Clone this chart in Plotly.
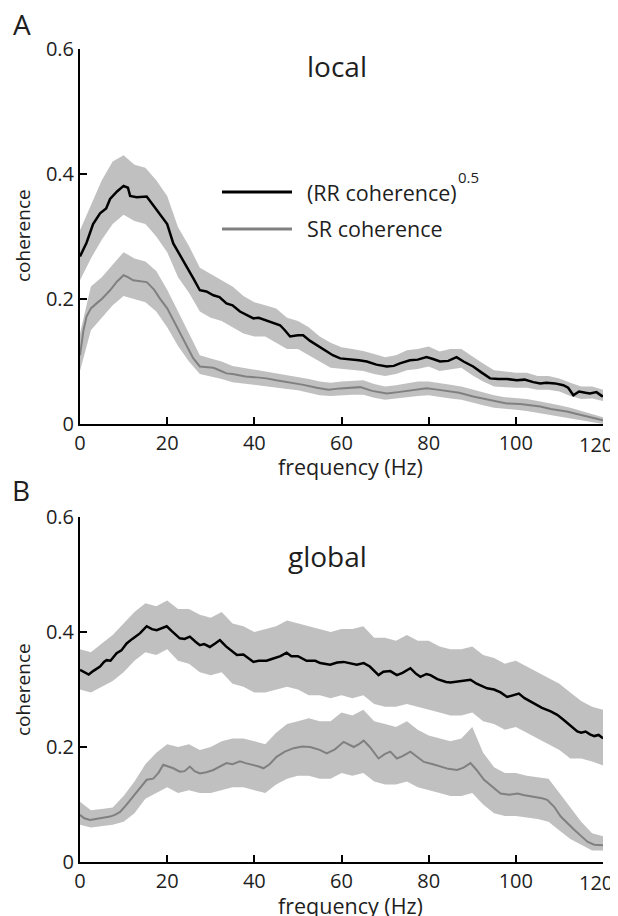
import plotly.graph_objects as go

# ---------------- data ----------------
# Panel A (local) – (RR coherence)^0.5 mean
a_rr_f = [0, 1.5, 3, 4.6, 6, 6.9, 8.5, 10, 11, 11.5, 13, 15.3, 16.8, 18, 19, 20, 21.4, 23, 24.5, 26,
          27.5, 29, 30.6, 32, 33.6, 35, 36.7, 38, 39.8, 41, 42.8, 44, 45.9, 47, 48.2, 50, 51.2, 52.8,
          54.3, 56, 58, 59.7, 62, 64, 65.8, 68, 70.4, 72, 73.4, 75.7, 77.5, 79.5, 81, 82.6, 84.5,
          86.4, 88, 90.2, 92, 94.1, 96, 98, 100.2, 102, 104, 105.6, 107, 109, 110.9, 112, 113.2,
          114.5, 116, 117, 118.5, 119.7, 120]
a_rr_m = [0.268, 0.29, 0.32, 0.337, 0.345, 0.36, 0.372, 0.381, 0.378, 0.365, 0.363, 0.364, 0.35,
          0.338, 0.33, 0.32, 0.289, 0.27, 0.252, 0.233, 0.214, 0.212, 0.206, 0.203, 0.193, 0.19,
          0.18, 0.175, 0.169, 0.17, 0.166, 0.163, 0.158, 0.15, 0.14, 0.142, 0.142, 0.133, 0.126,
          0.118, 0.11, 0.105, 0.104, 0.102, 0.1, 0.095, 0.092, 0.093, 0.097, 0.102, 0.103, 0.107,
          0.104, 0.1, 0.101, 0.107, 0.1, 0.092, 0.083, 0.073, 0.072, 0.072, 0.07, 0.071, 0.067,
          0.065, 0.066, 0.065, 0.062, 0.058, 0.046, 0.052, 0.05, 0.049, 0.051, 0.045, 0.045]

# Panel A – SR coherence mean
a_sr_f = [0, 0.8, 1.5, 2.5, 3.8, 5, 6.9, 8.5, 10, 11, 12.2, 13.8, 15.3, 17, 18.3, 20, 21.4, 23,
          24.5, 26, 27.5, 29, 30.6, 32, 33.6, 35, 36.7, 38, 40, 42.8, 45, 47, 48.9, 51, 54.3, 57,
          59.7, 62, 64.3, 67, 70.4, 73, 76, 79.5, 82, 84.9, 87, 90.2, 93, 95, 97.9, 101, 103,
          105.6, 108, 111.7, 114, 117, 120]
a_sr_m = [0.11, 0.15, 0.172, 0.185, 0.193, 0.2, 0.214, 0.228, 0.238, 0.235, 0.23, 0.229, 0.227,
          0.215, 0.201, 0.185, 0.166, 0.145, 0.124, 0.105, 0.092, 0.091, 0.09, 0.086, 0.081,
          0.08, 0.078, 0.076, 0.075, 0.073, 0.07, 0.068, 0.065, 0.063, 0.058, 0.055, 0.057,
          0.058, 0.059, 0.053, 0.049, 0.051, 0.054, 0.057, 0.055, 0.052, 0.05, 0.044, 0.04,
          0.036, 0.033, 0.032, 0.03, 0.028, 0.024, 0.02, 0.016, 0.011, 0.006]

# Band edges (shaded error regions), read on a 2.5 Hz grid
band_f = [0, 2.5, 5, 7.5, 10, 12.5, 15, 17.5, 20, 22.5, 25, 27.5, 30, 32.5, 35, 37.5, 40, 42.5,
          45, 47.5, 50, 52.5, 55, 57.5, 60, 62.5, 65, 67.5, 70, 72.5, 75, 77.5, 80, 82.5, 85,
          87.5, 90, 92.5, 95, 97.5, 100, 102.5, 105, 107.5, 110, 112.5, 115, 117.5, 120]

a_rr_lo = [0.23, 0.265, 0.295, 0.32, 0.335, 0.325, 0.32, 0.30, 0.275, 0.235, 0.21, 0.18, 0.17,
           0.165, 0.155, 0.145, 0.14, 0.14, 0.13, 0.12, 0.12, 0.11, 0.1, 0.09, 0.088, 0.087,
           0.085, 0.08, 0.077, 0.08, 0.086, 0.088, 0.092, 0.085, 0.088, 0.09, 0.078, 0.068,
           0.06, 0.059, 0.058, 0.058, 0.055, 0.055, 0.052, 0.045, 0.04, 0.041, 0.037]
a_rr_hi = [0.31, 0.35, 0.39, 0.42, 0.43, 0.415, 0.41, 0.39, 0.365, 0.315, 0.285, 0.25, 0.24,
           0.23, 0.22, 0.205, 0.195, 0.19, 0.185, 0.17, 0.165, 0.155, 0.14, 0.13, 0.123, 0.12,
           0.117, 0.112, 0.107, 0.11, 0.118, 0.12, 0.124, 0.116, 0.12, 0.12, 0.108, 0.097,
           0.086, 0.084, 0.082, 0.082, 0.077, 0.077, 0.073, 0.066, 0.06, 0.06, 0.055]

a_sr_lo = [0.085, 0.15, 0.17, 0.19, 0.205, 0.2, 0.195, 0.18, 0.155, 0.125, 0.1, 0.08, 0.076,
           0.072, 0.067, 0.065, 0.063, 0.061, 0.058, 0.056, 0.054, 0.05, 0.046, 0.045, 0.046,
           0.047, 0.047, 0.042, 0.039, 0.04, 0.043, 0.045, 0.046, 0.044, 0.041, 0.039, 0.034,
           0.03, 0.026, 0.024, 0.023, 0.021, 0.019, 0.016, 0.013, 0.01, 0.006, 0.003, 0.0]
a_sr_hi = [0.145, 0.22, 0.235, 0.255, 0.275, 0.265, 0.26, 0.245, 0.215, 0.18, 0.145, 0.11,
           0.105, 0.1, 0.093, 0.09, 0.088, 0.085, 0.082, 0.078, 0.076, 0.072, 0.068, 0.066,
           0.068, 0.069, 0.07, 0.064, 0.06, 0.062, 0.065, 0.068, 0.068, 0.066, 0.063, 0.06,
           0.055, 0.05, 0.046, 0.043, 0.042, 0.04, 0.037, 0.034, 0.03, 0.026, 0.021, 0.016, 0.011]

# Panel B (global) – (RR coherence)^0.5 mean
b_rr_f = [0, 1, 2, 3, 4.6, 5.5, 6.1, 7, 8.4, 9.5, 10.7, 12, 13.8, 15.3, 16.5, 17.6, 19, 19.9, 21,
          22.9, 24, 25.2, 26.5, 27.5, 28.5, 29.8, 31, 32.1, 33.5, 35, 36, 37.5, 39, 39.8, 41, 42.8,
          44, 46, 47.4, 48.5, 50, 52, 54, 55.1, 57.4, 59, 60.5, 62, 63.5, 65.1, 66.5, 68.5, 69.6,
          71.2, 72.7, 74, 75.8, 77, 78.1, 79.5, 80.4, 82, 84, 85, 87, 89.6, 91, 93.4, 95, 96.5,
          98, 99.5, 100.7, 102, 104.2, 106, 108, 109.5, 111, 112.5, 114.1, 115, 116, 117, 118,
          119, 120]
b_rr_m = [0.334, 0.33, 0.326, 0.332, 0.34, 0.348, 0.351, 0.35, 0.363, 0.368, 0.38, 0.388, 0.398,
          0.41, 0.405, 0.403, 0.408, 0.41, 0.402, 0.389, 0.388, 0.392, 0.383, 0.377, 0.379, 0.374,
          0.38, 0.386, 0.375, 0.365, 0.36, 0.361, 0.352, 0.348, 0.35, 0.35, 0.353, 0.358, 0.364,
          0.358, 0.358, 0.35, 0.35, 0.346, 0.343, 0.347, 0.348, 0.345, 0.343, 0.346, 0.34, 0.325,
          0.331, 0.332, 0.325, 0.329, 0.337, 0.328, 0.322, 0.327, 0.325, 0.318, 0.313, 0.312,
          0.314, 0.317, 0.31, 0.302, 0.3, 0.295, 0.287, 0.291, 0.293, 0.285, 0.276, 0.268, 0.262,
          0.256, 0.247, 0.237, 0.227, 0.225, 0.227, 0.222, 0.219, 0.221, 0.215]

# Panel B – SR coherence mean
b_sr_f = [0, 1, 2.3, 4, 5.5, 6.9, 8, 9.2, 10.5, 12.2, 13.5, 15.3, 16.8, 18, 19.1, 20.3, 21.4,
          22.9, 24, 25.2, 26.3, 27.5, 29, 30.6, 32, 33.6, 35, 36.7, 38, 39.8, 41, 42.1, 43.5, 45.1,
          47, 49, 51, 52.8, 55, 56.6, 58.5, 60.5, 61.5, 62.8, 64, 65.1, 66.5, 68.5, 70, 71.2, 72.7,
          74, 75.8, 77.5, 78.9, 81, 82.7, 84.5, 86.5, 88, 89.6, 91, 92.7, 94.5, 96.5, 98.5, 100.4,
          102, 104.2, 106, 107.2, 108.8, 110.3, 112, 113.4, 115, 116.5, 118, 120]
b_sr_m = [0.082, 0.076, 0.073, 0.075, 0.077, 0.079, 0.082, 0.087, 0.098, 0.114, 0.128, 0.143,
          0.145, 0.155, 0.169, 0.166, 0.163, 0.157, 0.158, 0.166, 0.158, 0.154, 0.156, 0.16,
          0.165, 0.172, 0.17, 0.175, 0.172, 0.169, 0.166, 0.163, 0.17, 0.183, 0.192, 0.198,
          0.201, 0.2, 0.195, 0.189, 0.196, 0.209, 0.205, 0.2, 0.205, 0.211, 0.2, 0.18, 0.188,
          0.192, 0.18, 0.184, 0.192, 0.182, 0.174, 0.17, 0.166, 0.162, 0.16, 0.164, 0.172, 0.16,
          0.143, 0.132, 0.119, 0.117, 0.119, 0.116, 0.113, 0.111, 0.108, 0.096, 0.079, 0.066,
          0.056, 0.045, 0.035, 0.03, 0.029]

b_rr_lo = [0.30, 0.295, 0.305, 0.315, 0.33, 0.35, 0.365, 0.36, 0.37, 0.35, 0.345, 0.33, 0.325,
           0.33, 0.31, 0.305, 0.295, 0.295, 0.3, 0.305, 0.3, 0.29, 0.29, 0.285, 0.29, 0.285,
           0.29, 0.275, 0.27, 0.27, 0.275, 0.27, 0.265, 0.26, 0.255, 0.255, 0.26, 0.245, 0.24,
           0.23, 0.235, 0.225, 0.215, 0.205, 0.195, 0.18, 0.18, 0.175, 0.168]
b_rr_hi = [0.37, 0.365, 0.38, 0.395, 0.415, 0.435, 0.45, 0.445, 0.455, 0.44, 0.44, 0.43, 0.425,
           0.435, 0.415, 0.41, 0.4, 0.405, 0.41, 0.42, 0.415, 0.41, 0.405, 0.4, 0.405, 0.405,
           0.41, 0.39, 0.39, 0.385, 0.395, 0.385, 0.385, 0.375, 0.37, 0.37, 0.375, 0.36, 0.355,
           0.345, 0.35, 0.34, 0.33, 0.32, 0.31, 0.295, 0.28, 0.27, 0.265]

b_sr_lo = [0.065, 0.06, 0.062, 0.065, 0.07, 0.085, 0.11, 0.12, 0.13, 0.12, 0.125, 0.12, 0.12,
           0.125, 0.13, 0.13, 0.125, 0.12, 0.135, 0.145, 0.15, 0.15, 0.145, 0.145, 0.155, 0.15,
           0.155, 0.14, 0.135, 0.135, 0.14, 0.13, 0.125, 0.12, 0.115, 0.115, 0.12, 0.1, 0.085,
           0.08, 0.08, 0.078, 0.075, 0.07, 0.055, 0.04, 0.03, 0.02, 0.02]
b_sr_hi = [0.105, 0.09, 0.092, 0.095, 0.115, 0.14, 0.17, 0.19, 0.205, 0.2, 0.205, 0.195, 0.2,
           0.21, 0.215, 0.215, 0.21, 0.205, 0.225, 0.24, 0.245, 0.25, 0.245, 0.245, 0.26, 0.255,
           0.265, 0.245, 0.24, 0.235, 0.245, 0.23, 0.22, 0.215, 0.21, 0.215, 0.235, 0.19, 0.165,
           0.155, 0.155, 0.15, 0.148, 0.145, 0.12, 0.095, 0.07, 0.05, 0.045]

x_ticks = [0, 20, 40, 60, 80, 100, 120]
x_ticktext = ["0", "20", "40", "60", "80", "100", ""]   # last label drawn separately (edge)
x_last_label = "120"
y_ticks = [0, 0.2, 0.4, 0.6]
y_ticktext = ["0", "0.2", "0.4", "0.6"]

# ---------------- style ----------------
OFF = 8                      # default page (body) margin offset
W, H = 618 - OFF, 916 - OFF  # figure size so it fits the window
FONT = "Open Sans"
BAND = "rgb(192,192,192)"
BLACK = "rgb(0,0,0)"
GRAY = "rgb(128,128,128)"
TXT = "#1e1e1e"


def px(x):
    return (x - OFF) / W


def py(y):
    return 1 - (y - OFF) / H


fig = go.Figure()


def add_panel(xa, ya, f_band, rr_lo, rr_hi, sr_lo, sr_hi, rr_f, rr_m, sr_f, sr_m):
    for lo, hi in ((rr_lo, rr_hi), (sr_lo, sr_hi)):
        fig.add_trace(go.Scatter(
            x=list(f_band) + list(f_band)[::-1], y=list(hi) + list(lo)[::-1],
            fill="toself", fillcolor=BAND, line=dict(width=0), mode="lines",
            hoverinfo="skip", showlegend=False, xaxis=xa, yaxis=ya))
    fig.add_trace(go.Scatter(x=sr_f, y=sr_m, mode="lines", line=dict(color=GRAY, width=2),
                             showlegend=False, xaxis=xa, yaxis=ya))
    fig.add_trace(go.Scatter(x=rr_f, y=rr_m, mode="lines", line=dict(color=BLACK, width=2.5),
                             showlegend=False, xaxis=xa, yaxis=ya))


add_panel("x", "y", band_f, a_rr_lo, a_rr_hi, a_sr_lo, a_sr_hi, a_rr_f, a_rr_m, a_sr_f, a_sr_m)
add_panel("x2", "y2", band_f, b_rr_lo, b_rr_hi, b_sr_lo, b_sr_hi, b_rr_f, b_rr_m, b_sr_f, b_sr_m)

xdom = [px(80), px(603)]
axis_common = dict(showline=True, linecolor="black", linewidth=2, ticks="inside", ticklen=7,
                   tickwidth=2, tickcolor="black", showgrid=False, zeroline=False,
                   automargin=False, ticklabeloverflow="allow",
                   tickfont=dict(family=FONT, size=20, color=TXT))

fig.update_layout(
    template="none",
    width=W, height=H, margin=dict(l=0, r=0, t=0, b=0, pad=0),
    paper_bgcolor="white", plot_bgcolor="white", showlegend=False,
    xaxis=dict(domain=xdom, range=[0, 120], tickvals=x_ticks, ticktext=x_ticktext, anchor="y",
               **axis_common),
    yaxis=dict(domain=[py(424), py(49)], range=[0, 0.6], tickvals=y_ticks, ticktext=y_ticktext,
               anchor="x", **axis_common),
    xaxis2=dict(domain=xdom, range=[0, 120], tickvals=x_ticks, ticktext=x_ticktext, anchor="y2",
                **axis_common),
    yaxis2=dict(domain=[py(862), py(517)], range=[0, 0.6], tickvals=y_ticks, ticktext=y_ticktext,
                anchor="x2", **axis_common),
)

ann = []


def text(x, y, s, size, xanchor="center", angle=0):
    ann.append(dict(x=px(x), y=py(y), xref="paper", yref="paper", text=s, showarrow=False,
                    xanchor=xanchor, yanchor="middle", textangle=angle,
                    font=dict(family=FONT, size=size, color=TXT)))


text(22, 24, "A", 28)
text(21, 490, "B", 28)
text(337, 66, "local", 28)
text(327, 556, "global", 28)
text(23, 236, "coherence", 19, angle=-90)
text(23, 690, "coherence", 19, angle=-90)
text(350, 466, "frequency (Hz)", 21.5)
text(350, 905, "frequency (Hz)", 21.5)
text(305, 193, "(RR coherence)", 21.5, xanchor="left")
text(456, 177, "0.5", 15, xanchor="left")
text(305, 228, "SR coherence", 21.5, xanchor="left")

# last x tick label, attached to the axis value but nudged left so it stays inside the page
for xr, yr in (("x", "y"), ("x2", "y2")):
    ann.append(dict(x=x_ticks[-1], y=0, xref=xr, yref=yr, text=x_last_label, showarrow=False,
                    xanchor="right", yanchor="top", xshift=12, yshift=-5,
                    font=dict(family=FONT, size=20, color=TXT)))

fig.update_layout(annotations=ann)

fig.add_shape(type="line", xref="paper", yref="paper", x0=px(222), x1=px(292), y0=py(192),
              y1=py(192), line=dict(color=BLACK, width=3))
fig.add_shape(type="line", xref="paper", yref="paper", x0=px(222), x1=px(292), y0=py(229),
              y1=py(229), line=dict(color=GRAY, width=3))

fig.write_html("out.html")
